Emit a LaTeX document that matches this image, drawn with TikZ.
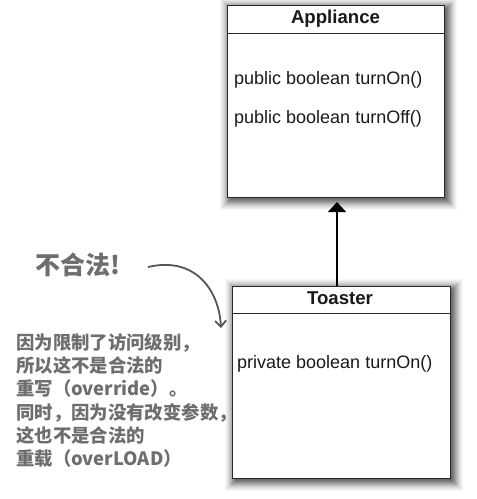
\documentclass[tikz,border=0pt]{standalone}
\usepackage{fontspec}
\setmainfont{Liberation Sans}
\newfontfamily\cjk{Noto Sans CJK SC}
\usetikzlibrary{arrows.meta}
\definecolor{notegray}{RGB}{110,110,110}
\definecolor{curvegray}{RGB}{85,85,85}
\definecolor{boxline}{RGB}{40,40,40}
\newcommand{\methodfont}{\fontsize{18}{21}\selectfont}
\newcommand{\titlefont}{\fontsize{18.6}{21}\selectfont\bfseries}
\tikzset{
  classbox/.style={draw=boxline, line width=0.9pt, fill=white, inner sep=0pt, outer sep=0pt, anchor=north west},
  classtitle/.style={anchor=base, font=\titlefont, text=black!90, inner sep=0pt},
  methodtext/.style={anchor=base west, font=\methodfont, text=black!90, inner sep=0pt},
  note/.style={anchor=base west, text=notegray, font=\cjk\bfseries\fontsize{18.4}{23}\selectfont, inner sep=0pt},
  umlarrow/.style={line width=1.6pt, -{Triangle[length=10pt,width=18pt]}},
  handarrow/.style={line width=1.8pt, draw=curvegray, -{Straight Barb[length=6pt,width=11pt]}}
}
\begin{document}
\begin{tikzpicture}[x=1pt,y=-1pt]
\useasboundingbox (0,0) rectangle (477,499);
% shadows (layered solid greys)
\foreach \e/\k in {10/3,9/6,8/10,7/14,6/19,5/25,4/31,3/37,2/43,1/49,0/54,-1/58,-2/60}{
  \fill[black!\k] ({227+3-(\e)},{5+3-(\e)}) rectangle ({444+3+(\e)},{197+3+(\e)});
  \fill[black!\k] ({232+3-(\e)},{286+3-(\e)}) rectangle ({450+3+(\e)},{478+3+(\e)});
}
% Appliance
\node[classbox, minimum width=217pt, minimum height=192pt] (app) at (227,5) {};
\draw[boxline, line width=0.9pt] ([yshift=-28pt]app.north west) -- ([yshift=-28pt]app.north east);
\node[classtitle] (apptitle) at (335.5,23) {Appliance};
\node[methodtext] (m1) at (234,84) {public boolean turnOn()};
\node[methodtext] (m2) at (234,123) {public boolean turnOff()};
% Toaster
\node[classbox, minimum width=218pt, minimum height=192pt] (toaster) at (232,286) {};
\draw[boxline, line width=0.9pt] ([yshift=-27pt]toaster.north west) -- ([yshift=-27pt]toaster.north east);
\node[classtitle] (toastertitle) at (340,304) {Toaster};
\node[methodtext] (m3) at (237,368) {private boolean turnOn()};
% inheritance arrow
\coordinate (tip) at (337,202);
\draw[umlarrow] (toaster.north -| tip) -- (tip);
% note
\node[anchor=base west, text=notegray, font=\cjk\bfseries\fontsize{25}{28}\selectfont, inner sep=0pt] (illegal) at (35,274) {不合法!};
\coordinate (cs) at (148,267);
\coordinate (ce) at (221,328);
\draw[handarrow] (cs) .. controls (195,256) and (219,290) .. (ce);
\node[note] (l1) at (16,349) {因为限制了访问级别，};
\node[note] (l2) at (16,372) {所以这不是合法的};
\node[note] (l3) at (16,395) {重写（override）。};
\node[note] (l4) at (16,419) {同时，因为没有改变参数，};
\node[note] (l5) at (16,442) {这也不是合法的};
\node[note] (l6) at (16,465) {重载（overLOAD）};
\end{tikzpicture}
\end{document}
